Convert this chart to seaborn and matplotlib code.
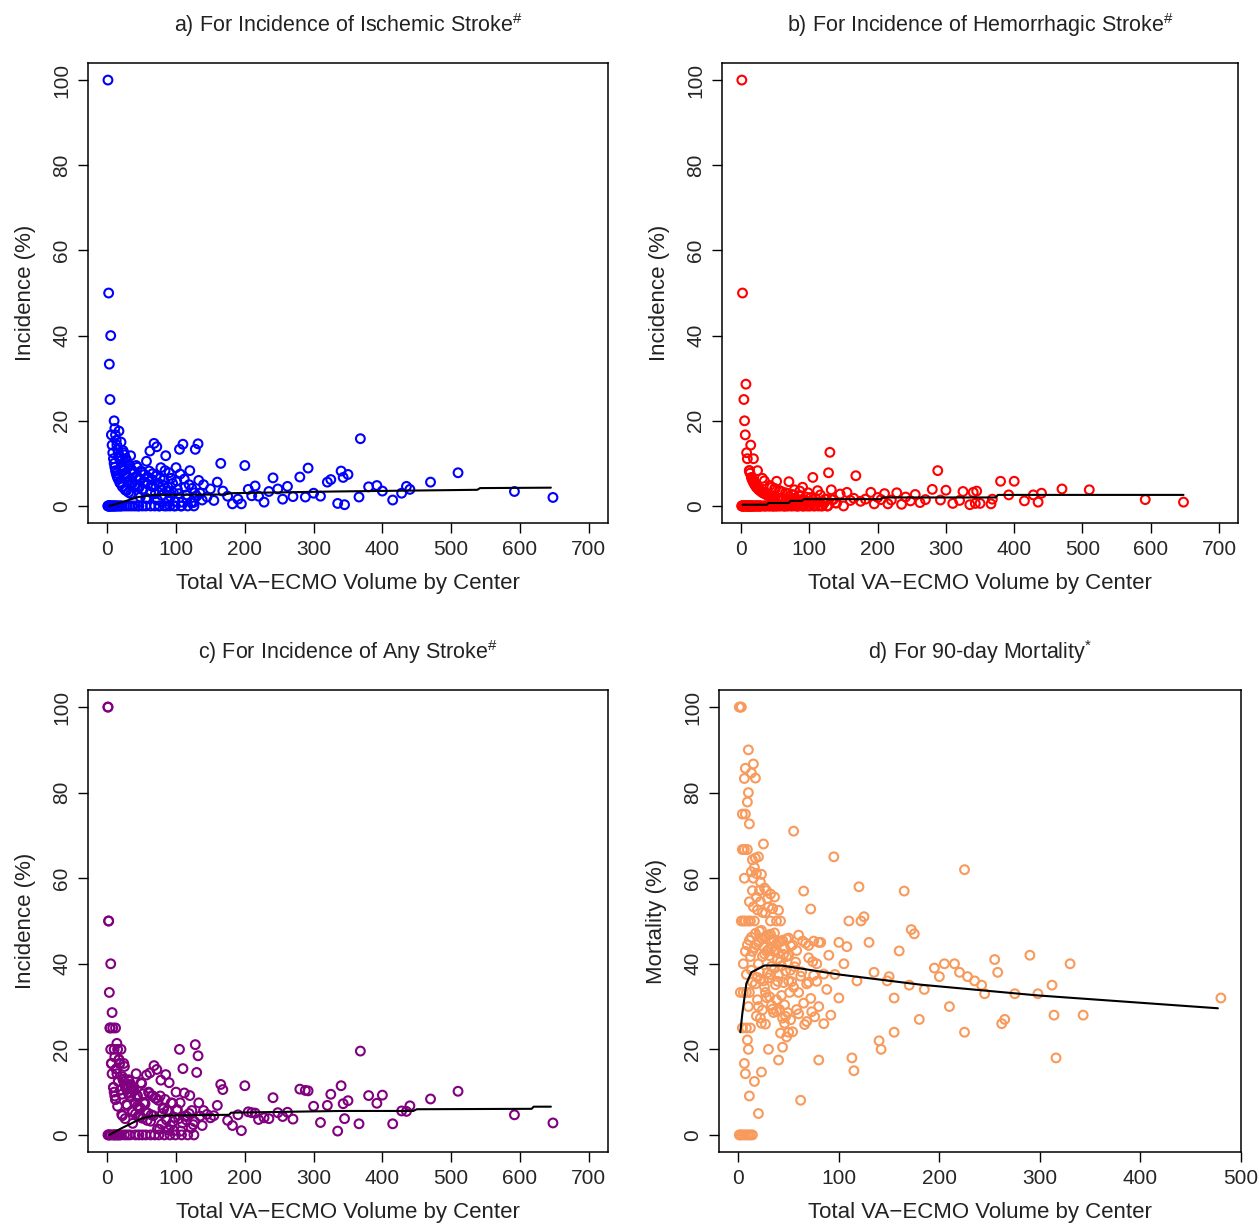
import numpy as np
import pandas as pd
import matplotlib
matplotlib.use("Agg")
import matplotlib.pyplot as plt
import seaborn as sns

# center volumes shared by panels a-c, with incidence (%) per center
center_vol = [1, 1, 1, 2, 2, 2, 3, 3, 4, 4,
              5, 5, 5, 6, 6, 7, 7, 8, 8, 9,
              9, 10, 10, 10, 11, 11, 12, 12, 13, 13,
              14, 15, 15, 16, 16, 17, 18, 18, 19, 20,
              20, 21, 22, 23, 24, 25, 25, 26, 27, 28,
              29, 30, 31, 32, 33, 34, 35, 36, 37, 38,
              40, 41, 42, 44, 45, 46, 47, 48, 50, 51,
              52, 55, 56, 57, 58, 60, 62, 63, 64, 66,
              68, 69, 70, 72, 74, 75, 76, 78, 80, 82,
              83, 85, 86, 88, 90, 91, 92, 95, 97, 99,
              100, 102, 105, 107, 108, 110, 112, 115, 117, 120,
              123, 125, 126, 128, 130, 132, 135, 140, 145, 150,
              155, 160, 165, 168, 175, 182, 190, 195, 200, 205,
              210, 215, 220, 228, 235, 241, 248, 255, 262, 270,
              280, 288, 292, 300, 310, 320, 325, 335, 340, 343,
              345, 350, 368, 366, 380, 392, 400, 415, 428, 435,
              440, 470, 510, 592, 648,
              11, 12, 13, 14, 15, 16, 17, 18, 19, 21,
              22, 23, 24, 26, 27, 28, 29, 31, 33, 34,
              36, 37, 39, 41, 43, 44, 46, 48, 49, 51,
              53, 54, 56, 59, 61, 63, 65, 67, 71, 73,
              77, 79, 81, 84, 87, 89, 93, 96, 98, 101,
              104, 106, 109, 113, 116, 119, 122, 127, 133, 138]

isch_inc = [100, 0, 0, 50, 0, 0, 33.3, 0, 25, 0,
            40, 0, 0, 16.7, 0, 0, 14.3, 12.5, 0, 11.1,
            0, 20, 10, 0, 18.2, 0, 16.7, 0, 15.4, 0,
            7.1, 13.3, 0, 12.5, 0, 11.8, 5.6, 0, 10.5, 15,
            0, 0, 9.1, 13, 8.3, 12, 0, 3.8, 7.4, 10.7,
            0, 6.7, 3.2, 9.4, 0, 2.9, 8.6, 5.6, 0, 7.9,
            5, 0, 9.5, 4.5, 0, 0, 6.4, 2.1, 8, 0,
            3.8, 5.5, 0, 10.5, 1.7, 6.7, 12.9, 0, 4.7, 7.6,
            14.7, 0, 2.9, 13.9, 5.4, 0, 0, 9, 3.8, 6.1,
            0, 11.8, 0, 4.5, 7.8, 0, 2.2, 5.3, 0, 0,
            9, 3.9, 13.3, 0, 0, 14.5, 6.3, 2.6, 0, 8.3,
            4.1, 0.8, 0, 13.3, 2.3, 14.6, 3, 5, 2.1, 4,
            1.3, 5.6, 10, 3.5, 2.3, 0.5, 1.6, 0.5, 9.5, 3.9,
            2.4, 4.7, 2.3, 0.9, 3.4, 6.6, 4, 1.6, 4.6, 2.2,
            6.8, 2.1, 8.9, 3, 2.3, 5.6, 6.2, 0.6, 8.2, 6.7,
            0.3, 7.4, 15.8, 2.1, 4.5, 4.8, 3.5, 1.4, 3, 4.6,
            3.9, 5.6, 7.8, 3.4, 2,
            9.1, 8.3, 7.7, 14.3, 6.7, 6.3, 17.6, 11.1, 5.3, 9.5,
            4.5, 8.7, 12.5, 7.7, 11.1, 3.6, 6.9, 9.7, 6.1, 11.8,
            8.3, 5.4, 7.7, 4.9, 7, 9.1, 4.3, 6.3, 8.2, 3.9,
            5.7, 7.4, 1.8, 5.1, 8.2, 3.2, 6.2, 4.5, 7, 1.4,
            6.5, 2.5, 4.9, 8.3, 3.4, 1.1, 6.5, 3.1, 1, 5.9,
            2.9, 7.5, 0.9, 4.4, 1.7, 5, 0.8, 3.1, 6, 1.4]

hem_inc = [0, 100, 0, 0, 50, 0, 0, 0, 0, 25,
           0, 20, 0, 0, 16.7, 28.6, 0, 12.5, 0, 0,
           11.1, 0, 0, 0, 0, 0, 8.3, 8.3, 0, 0,
           14.3, 6.7, 0, 0, 0, 5.9, 11.1, 0, 0, 5,
           0, 4.8, 4.5, 0, 8.3, 4, 0, 0, 3.7, 0,
           0, 3.3, 6.5, 3.1, 0, 5.9, 2.9, 0, 2.7, 2.6,
           2.5, 0, 4.8, 2.3, 4.4, 0, 0, 2.1, 4, 0,
           5.8, 1.8, 0, 3.5, 1.7, 3.3, 1.6, 0, 0, 1.5,
           2.9, 0, 5.7, 1.4, 2.7, 0, 1.3, 3.8, 1.3, 0,
           0, 2.4, 3.5, 1.1, 4.4, 0, 0, 2.1, 1, 0,
           1, 2, 6.7, 0.9, 0, 0.9, 3.6, 0.9, 0, 0.8,
           1.6, 1.6, 0, 7.8, 12.6, 3.8, 1.5, 0.7, 2.8, 0,
           3.2, 1.3, 1.8, 7.1, 1.1, 1.6, 3.2, 0.5, 2, 1.5,
           2.9, 0.5, 1.4, 3.1, 0.4, 2.1, 1.2, 2.7, 0.8, 1.5,
           3.9, 8.3, 1.4, 3.7, 0.6, 1.3, 3.4, 0.3, 3.2, 0.6,
           3.5, 0.6, 1.6, 0.5, 5.8, 2.6, 5.8, 1.2, 2.6, 0.9,
           3, 4, 3.8, 1.5, 0.9,
           0, 0, 7.7, 0, 0, 6.3, 0, 5.6, 5.3, 0,
           0, 4.3, 0, 3.8, 0, 3.6, 0, 3.2, 3, 0,
           2.8, 0, 2.6, 0, 2.3, 0, 2.2, 0, 4.1, 0,
           1.9, 0, 3.6, 0, 1.6, 0, 3.1, 0, 1.4, 0,
           2.6, 0, 1.2, 0, 2.3, 0, 1.1, 0, 3.1, 0,
           1, 0, 1.8, 0, 2.6, 0, 0.8, 0, 1.5, 0.7]

any_inc = [100, 100, 0, 50, 50, 0, 33.3, 0, 25, 25,
           40, 20, 0, 16.7, 16.7, 28.6, 14.3, 25, 0, 11.1,
           11.1, 20, 10, 0, 18.2, 0, 25, 8.3, 15.4, 0,
           21.4, 20, 0, 12.5, 0, 17.6, 16.7, 0, 10.5, 20,
           0, 4.8, 13.6, 13, 16.7, 16, 0, 3.8, 11.1, 10.7,
           0, 10, 9.7, 12.5, 0, 8.8, 11.4, 5.6, 2.7, 10.5,
           7.5, 0, 14.3, 6.8, 4.4, 0, 6.4, 4.2, 12, 0,
           9.6, 7.3, 0, 14, 3.4, 10, 14.5, 0, 4.7, 9.1,
           16.2, 0, 8.6, 15.3, 8.1, 0, 1.3, 12.8, 5, 6.1,
           0, 14.1, 3.5, 5.7, 12.2, 0, 2.2, 7.4, 1, 0,
           10, 5.9, 20, 0.9, 0, 15.5, 9.8, 3.5, 0, 9.2,
           5.7, 2.4, 0, 21.1, 14.6, 18.5, 4.4, 5.7, 4.8, 4,
           4.5, 6.9, 11.8, 10.6, 3.4, 2.2, 4.7, 1, 11.5, 5.4,
           5.2, 5.1, 3.6, 4, 3.8, 8.7, 5.2, 4.3, 5.3, 3.7,
           10.7, 10.4, 10.3, 6.7, 2.9, 6.9, 9.5, 0.9, 11.5, 7.3,
           3.8, 8, 19.6, 2.6, 9.2, 7.4, 9.3, 2.6, 5.6, 5.5,
           6.8, 8.4, 10.2, 4.7, 2.8,
           9.1, 8.3, 15.4, 14.3, 6.7, 12.5, 17.6, 16.7, 10.5, 9.5,
           4.5, 13, 12.5, 11.5, 11.1, 7.1, 6.9, 12.9, 9.1, 11.8,
           11.1, 5.4, 10.3, 4.9, 9.3, 9.1, 6.5, 6.3, 12.2, 3.9,
           7.5, 7.4, 5.4, 5.1, 9.8, 3.2, 9.2, 4.5, 8.5, 1.4,
           9.1, 2.5, 6.2, 8.3, 5.7, 1.1, 7.5, 3.1, 4.1, 5.9,
           3.8, 7.5, 2.8, 4.4, 4.3, 5, 1.6, 3.1, 7.5, 2.2]

# panel d centers: volume and 90-day mortality (%)
mort_vol = [1, 2, 3, 1, 2, 4, 6, 8, 10, 12, 14, 3, 5, 7, 10, 12, 16, 4, 6, 9,
            2, 5, 8, 11, 4, 7, 4, 8, 12, 6, 6, 7, 7, 9, 9, 10, 10, 10, 11, 11,
            13, 13, 13, 15, 15, 14, 14, 16, 16, 17, 17, 18, 18, 19, 19, 20, 20, 20, 21, 21,
            22, 22, 23, 23, 24, 24, 25, 25, 26, 26, 27, 27, 28, 28, 29, 30, 30, 30, 31, 32,
            32, 33, 33, 34, 35, 35, 36, 37, 38, 38, 39, 40, 40, 40, 42, 42, 43, 44, 45, 46,
            47, 48, 50, 50, 52, 52, 54, 55, 55, 57, 58, 60, 60, 62, 63, 65, 65, 67, 68, 70,
            70, 72, 73, 75, 75, 78, 80, 80, 82, 85, 85, 88, 90, 92, 95, 96, 100, 100, 105, 108,
            110, 113, 115, 118, 120, 122, 125, 130, 135, 140, 142, 148, 150, 155, 155, 160, 165, 170, 172, 175,
            180, 185, 195, 200, 205, 210, 215, 220, 225, 225, 228, 235, 242, 245, 255, 258, 262, 265, 275, 290,
            298, 312, 314, 316, 330, 343, 480, 20, 23, 11, 17,
            5, 6, 7, 8, 9, 10, 11, 12, 13, 14,
            15, 16, 17, 18, 19, 20, 21, 22, 23, 24,
            25, 26, 27, 28, 29, 30, 31, 32, 33, 34,
            35, 36, 37, 38, 39, 40, 41, 42, 43, 44,
            45, 46, 47, 48, 49, 50, 51, 52, 53, 54,
            56, 58, 60, 62, 64, 66, 68, 70, 72, 74,
            76, 78, 80, 24, 28, 32, 36, 40, 44, 48,
            14, 18, 22, 26, 30, 34, 38, 42, 46, 50]

mort_pct = [100, 100, 100, 0, 0, 0, 0, 0, 0, 0, 0, 50, 50, 50, 50, 50, 50, 66.7, 66.7, 66.7,
            33.3, 33.3, 33.3, 33.3, 75, 75, 25, 25, 25, 83.3, 16.7, 85.7, 14.3, 77.8, 22.2, 90, 20, 80, 72.7, 45.5,
            61.5, 38.5, 84.6, 86.7, 60, 57.1, 42.9, 62.5, 12.5, 64.7, 47.1, 55.6, 27.8, 52.6, 36.8, 65, 45, 30, 57.1, 38.1,
            54.5, 27.3, 47.8, 60.9, 41.7, 29.2, 68, 44, 46.2, 34.6, 51.9, 25.9, 42.9, 32.1, 55.2, 46.7, 36.7, 20, 41.9, 37.5,
            50, 45.5, 30.3, 52.9, 42.9, 28.6, 47.2, 35.1, 44.7, 31.6, 41, 45, 37.5, 17.5, 50, 40.5, 32.6, 45.5, 35.6, 43.5,
            27.7, 41.7, 46, 36, 38.5, 26.9, 44.4, 71, 34.5, 40.4, 29.3, 46.7, 33.3, 8.1, 38.1, 57, 30.8, 44.8, 26.5, 41.4,
            35.7, 52.8, 28.8, 45.3, 37.3, 40, 30, 17.5, 45, 37.6, 26, 34, 42, 28, 65, 37.5, 45, 32, 40, 44,
            50, 18, 15, 36, 58, 50, 51, 45, 38, 22, 20, 36, 37, 32, 24, 43, 57, 35, 48, 47,
            27, 34, 39, 37, 40, 30, 40, 38, 62, 24, 37, 36, 35, 33, 41, 38, 26, 27, 33, 42,
            33, 35, 28, 18, 40, 28, 32, 5, 14.7, 9.1, 83.4,
            40, 60, 42.9, 37.5, 44.4, 30, 54.5, 41.7, 46.2, 35.7,
            53.3, 43.8, 35.3, 44.4, 31.6, 40, 47.6, 36.4, 26.1, 45.8,
            36, 42.3, 33.3, 46.4, 37.9, 43.3, 32.3, 46.9, 39.4, 29.4,
            45.7, 38.9, 43.2, 28.9, 35.9, 42.5, 29.3, 45.2, 39.5, 27.3,
            42.2, 30.4, 38.3, 45.8, 28.6, 42, 33.3, 44.2, 35.8, 24.1,
            39.3, 43.1, 28.3, 37.1, 45.3, 25.8, 35.3, 44.3, 31.9, 40.5,
            27.6, 35.9, 45, 52, 57.1, 56.3, 55.6, 52.5, 20.5, 22.9,
            64.3, 61.1, 59.1, 57.7, 53.3, 52.9, 50, 23.8, 26.1, 24]

# fitted trend lines
isch_tr_x = [3, 20, 45, 67, 170, 180, 330, 538, 542, 645]
isch_tr_y = [0, 0.8, 2.1, 2.6, 2.7, 3.0, 3.4, 3.8, 4.2, 4.3]
hem_tr_x = [2, 38, 40, 70, 72, 89, 92, 204, 208, 373, 376, 648]
hem_tr_y = [0.3, 0.3, 0.7, 0.7, 1.2, 1.2, 1.6, 1.6, 2.0, 2.0, 2.6, 2.6]
any_tr_x = [3, 20, 49, 67, 177, 180, 340, 445, 450, 617, 620, 645]
any_tr_y = [0, 1.5, 3.8, 4.5, 4.7, 5.2, 5.6, 5.6, 6.0, 6.1, 6.6, 6.6]
mort_tr_x = [2, 4, 8, 13, 26, 43, 100, 182, 298, 477]
mort_tr_y = [24, 28.4, 35.4, 38, 39.6, 39.6, 37.5, 35.1, 32.6, 29.6]

sns.set_style("ticks")
plt.rcParams['font.family'] = ['Liberation Sans', 'DejaVu Sans']
plt.rcParams['mathtext.fontset'] = 'custom'
plt.rcParams['mathtext.rm'] = 'Liberation Sans'

fig = plt.figure(figsize=(12.59, 12.24), dpi=100)

panels = [
    dict(pos=[0.0699, 0.5727, 0.4130, 0.3758], x=center_vol, y=isch_inc, tx=isch_tr_x, ty=isch_tr_y,
         color="#0000FF", title=r"a) For Incidence of Ischemic Stroke$^{\#}$", ylab="Incidence (%)",
         xlim=(-28, 728), xt=range(0, 701, 100)),
    dict(pos=[0.5735, 0.5727, 0.4099, 0.3758], x=center_vol, y=hem_inc, tx=hem_tr_x, ty=hem_tr_y,
         color="#FF0000", title=r"b) For Incidence of Hemorrhagic Stroke$^{\#}$", ylab="Incidence (%)",
         xlim=(-28, 728), xt=range(0, 701, 100)),
    dict(pos=[0.0699, 0.0588, 0.4130, 0.3775], x=center_vol, y=any_inc, tx=any_tr_x, ty=any_tr_y,
         color="#800080", title=r"c) For Incidence of Any Stroke$^{\#}$", ylab="Incidence (%)",
         xlim=(-28, 728), xt=range(0, 701, 100)),
    dict(pos=[0.5711, 0.0588, 0.4146, 0.3775], x=mort_vol, y=mort_pct, tx=mort_tr_x, ty=mort_tr_y,
         color="#F79A5C", title=r"d) For 90-day Mortality$^{*}$", ylab="Mortality (%)",
         xlim=(-19.2, 500), xt=range(0, 501, 100)),
]

for p in panels:
    ax = fig.add_axes(p["pos"])
    df = pd.DataFrame({"vol": p["x"], "val": p["y"]})
    sns.scatterplot(data=df, x="vol", y="val", ax=ax, marker="o", s=40,
                    facecolors="none", edgecolors=p["color"], linewidth=1.5)
    sns.lineplot(x=p["tx"], y=p["ty"], ax=ax, color="black", linewidth=1.5,
                 estimator=None, sort=False)
    ax.set_xlim(*p["xlim"])
    ax.set_ylim(-4, 104)
    ax.set_xticks(list(p["xt"]))
    ax.set_yticks(range(0, 101, 20))
    ax.tick_params(axis="both", direction="out", length=7, width=1, labelsize=15, pad=5, color="black")
    plt.setp(ax.get_yticklabels(), rotation=90, va="center")
    ax.set_xlabel("Total VA\u2212ECMO Volume by Center", fontsize=16, labelpad=10, color="#222222")
    ax.set_ylabel(p["ylab"], fontsize=16, labelpad=12, color="#222222")
    ax.set_title(p["title"], fontsize=15.5, pad=22, color="#222222")
    for s in ax.spines.values():
        s.set_visible(True)
        s.set_linewidth(1.1)
        s.set_color("black")

fig.savefig("out.png", dpi=100, facecolor="white")
